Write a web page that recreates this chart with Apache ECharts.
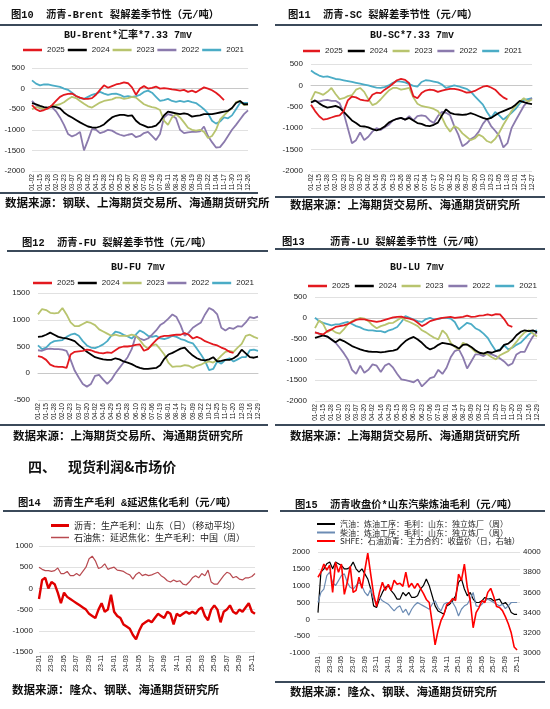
<!DOCTYPE html>
<html><head><meta charset="utf-8">
<script src="https://cdn.jsdelivr.net/npm/echarts@6/dist/echarts.min.js"></script>
<style>html,body{margin:0;padding:0;background:#fff}#c{width:550px;height:709px}</style>
</head><body><div id="c"></div>
<script>
// ---------- tick labels / categories ----------
const LABELS_BRENT = ['01-02','01-15','01-28','02-10','02-23','03-07','03-20','04-02','04-15','04-28','05-12','05-25','06-07','06-20','07-03','07-16','07-29','08-11','08-24','09-06','09-19','10-09','10-22','11-04','11-17','11-30','12-13','12-26'];
const LABELS_SC = ['01-02','01-15','01-28','02-10','02-23','03-07','03-20','04-02','04-16','04-29','05-13','05-26','06-08','06-21','07-04','07-17','07-30','08-12','08-25','09-07','09-20','10-10','10-23','11-05','11-18','12-01','12-14','12-27'];
const LABELS_FU_LU = ['01-02','01-15','01-28','02-10','02-23','03-07','03-20','04-02','04-16','04-29','05-15','05-28','06-10','06-23','07-06','07-19','08-01','08-14','08-27','09-09','09-22','10-12','10-25','11-07','11-20','12-03','12-16','12-29'];
const MONTHS = ['23-01','23-02','23-03','23-04','23-05','23-06','23-07','23-08','23-09','23-10','23-11','23-12','24-01','24-02','24-03','24-04','24-05','24-06','24-07','24-08','24-09','24-10','24-11','24-12','25-01','25-02','25-03','25-04','25-05','25-06','25-07','25-08','25-09','25-10','25-11'];
const YEARS = ['2025','2024','2023','2022','2021'];

// ---------- BU-Brent ----------
const BRENT_2025 = [-400,-500,-550,-520,-480,-400,-300,-200,-150,-130,-120,-180,-220,-250,-250,-230,-150,-30,80,20,60,100,120,150,130,30,-150,0,60,0,20,50,0,10,0,-20,-30,-50,-30,-80,-50,-90,-30,30,0,-40,-100,-180,-280];
const BRENT_2024 = [-350,-380,-420,-450,-460,-430,-450,-480,-580,-650,-700,-760,-820,-870,-920,-940,-950,-920,-870,-780,-700,-660,-640,-640,-660,-650,-780,-860,-900,-940,-930,-900,-800,-650,-560,-580,-600,-620,-600,-620,-680,-660,-650,-620,-620,-620,-600,-580,-560,-540,-470,-350,-300,-380,-380];
const BRENT_2023 = [-500,-450,-470,-500,-480,-420,-400,-380,-330,-260,-200,-230,-300,-370,-430,-460,-400,-340,-300,-280,-260,-220,-220,-250,-230,-200,-220,-300,-380,-420,-450,-470,-520,-780,-880,-700,-620,-700,-820,-950,-1000,-1020,-1000,-1050,-1200,-1150,-1000,-750,-650,-550,-480,-330,-300,-400,-380];
const BRENT_2022 = [-300,-400,-480,-500,-470,-450,-550,-700,-880,-1100,-1160,-1120,-1050,-1500,-1250,-980,-1000,-1080,-1050,-1000,-1020,-1080,-1120,-1150,-1120,-1100,-1180,-1150,-1080,-1050,-1150,-1250,-1100,-700,-620,-650,-720,-1000,-1080,-1060,-1050,-1050,-1040,-920,-1150,-1300,-1430,-1420,-1300,-1150,-1000,-880,-750,-620,-530];
const BRENT_2021 = [200,120,80,100,100,80,60,40,0,-30,-100,-180,-230,-250,-200,-150,-120,-80,-120,-150,-130,-120,-150,-200,-180,-200,-180,-150,-80,-50,-100,-200,-300,-280,-250,-300,-320,-300,-320,-300,-330,-350,-420,-500,-600,-780,-850,-800,-700,-720,-650,-500,-350,-350,-350];

// ---------- BU-SC ----------
const SC_2025 = [-450,-600,-720,-800,-780,-750,-720,-700,-600,-350,-260,-280,-330,-350,-360,-220,-170,-180,-100,-40,40,120,150,130,50,-250,-300,-180,-120,-100,-110,-150,-120,-100,-80,-80,-100,-130,-170,-160,-130,-80,-30,-10,-50,-100,-200,-280,-330];
const SC_2024 = [-400,-350,-420,-480,-520,-500,-480,-520,-620,-720,-820,-880,-950,-960,-980,-1020,-1050,-1020,-960,-870,-820,-780,-760,-800,-760,-820,-880,-900,-940,-950,-920,-870,-700,-560,-640,-670,-680,-690,-680,-650,-680,-720,-760,-790,-760,-700,-640,-600,-560,-520,-450,-360,-390,-420,-440];
const SC_2023 = [-350,-150,-180,-220,-150,-60,-200,-320,-300,-250,-230,-100,-60,-150,-320,-460,-420,-330,-220,-120,-60,-60,-100,-80,-60,-280,-430,-480,-500,-520,-550,-600,-750,-950,-1080,-950,-1000,-1120,-1200,-1280,-1240,-1150,-1200,-1300,-1340,-1250,-1100,-920,-760,-600,-480,-380,-300,-380,-330];
const SC_2022 = [-400,-360,-380,-350,-340,-360,-360,-420,-650,-1000,-1350,-1280,-1100,-1280,-1200,-1080,-1000,-1040,-980,-920,-820,-780,-760,-800,-720,-820,-720,-700,-720,-820,-880,-720,-620,-640,-700,-950,-1150,-1420,-1360,-1260,-1200,-1080,-900,-780,-950,-1060,-1180,-1450,-1350,-1000,-820,-650,-480,-380,-300];
const SC_2021 = [350,280,230,200,210,180,150,140,120,100,80,60,40,20,0,-30,-50,-60,-40,0,60,100,90,70,30,-10,-30,80,120,110,90,70,20,-60,-30,0,-20,-50,-80,-140,-250,-350,-450,-620,-760,-620,-700,-800,-720,-640,-550,-420,-340,-320,-300];

// ---------- BU-FU ----------
const FU_2025 = [320,300,250,160,130,120,120,100,350,400,410,420,440,430,400,380,370,390,380,430,480,500,500,510,530,540,420,450,540,620,680,700,700,710,720,720,750,720,650,680,650,600,570,540,520,480,450,400,380];
const FU_2024 = [680,690,720,760,720,680,660,650,630,600,530,470,400,350,300,280,260,250,250,280,260,220,200,170,130,100,80,80,90,100,150,270,350,380,420,460,480,400,330,280,250,240,260,300,220,230,250,250,280,330,440,370,300,290,310];
const FU_2023 = [1100,1200,1180,1130,1120,1130,1220,1100,950,880,880,920,960,940,900,820,780,740,700,720,700,700,700,720,700,620,520,460,520,540,450,350,200,120,130,130,150,140,100,140,160,200,220,200,250,330,400,420,400,480,550,700,720,680,650];
const FU_2022 = [430,420,450,460,450,450,440,420,250,50,-80,-200,-250,-200,-50,-30,-120,-200,-120,0,100,200,300,450,700,650,620,650,720,800,900,950,1020,1100,1050,900,700,760,850,900,950,1100,1220,1180,1100,850,800,850,830,880,870,950,1050,1030,1060];
const FU_2021 = [520,450,480,560,600,610,620,680,720,740,700,600,520,480,470,500,540,600,700,780,760,720,690,650,720,800,760,700,680,700,650,640,660,700,680,640,620,580,560,460,350,230,60,80,220,180,250,280,220,260,300,300,430,440,420];

// ---------- BU-LU ----------
const LU_2025 = [-350,-380,-400,-320,-280,-220,-200,-180,-150,-100,-50,-30,-40,-60,-80,-100,-80,-50,-20,10,20,30,0,-20,-50,-120,-200,-150,-80,-50,-20,0,10,20,0,10,20,50,20,30,50,60,80,60,90,80,-30,-180,-220];
const LU_2024 = [-480,-450,-420,-450,-520,-590,-520,-560,-620,-680,-720,-760,-790,-810,-820,-820,-830,-820,-800,-790,-760,-650,-560,-500,-460,-520,-600,-700,-760,-720,-650,-600,-620,-640,-680,-740,-650,-640,-700,-780,-840,-860,-820,-840,-800,-780,-650,-620,-540,-420,-340,-300,-320,-300,-350];
const LU_2023 = [-250,-60,-150,-350,-280,-350,-380,-280,-150,-80,-40,0,-20,-80,-180,-250,-200,-170,-130,-120,-60,0,-60,-100,-150,-200,-300,-350,-420,-480,-520,-300,-400,-600,-700,-760,-600,-650,-720,-820,-840,-860,-880,-950,-1000,-900,-850,-800,-700,-580,-450,-350,-300,-380,-450];
const LU_2022 = [-350,-380,-420,-450,-520,-600,-720,-850,-1000,-1250,-1350,-1150,-1320,-1250,-1120,-1150,-1300,-1150,-1100,-1200,-1350,-1480,-1500,-1520,-1550,-1480,-1650,-1550,-1450,-1420,-1250,-1350,-1200,-950,-800,-760,-950,-1220,-1050,-880,-880,-920,-850,-880,-920,-980,-1050,-1150,-1100,-880,-820,-820,-620,-450,-350];
const LU_2021 = [0,-80,-120,-150,-180,-160,-150,-120,-100,-150,-200,-230,-280,-300,-300,-320,-320,-350,-300,-270,-220,-100,40,0,-40,-80,-100,-30,0,-40,-30,0,0,-20,-100,-280,-200,-120,-150,-250,-300,-380,-480,-650,-800,-760,-660,-760,-720,-650,-600,-500,-400,-330,-300];

// ---------- Fig 14 (half-monthly) ----------
const NAME_BU_MARGIN = '沥青：生产毛利：山东（日）（移动平均）';
const NAME_COKE_MARGIN = '石油焦：延迟焦化：生产毛利：中国（周）';
const BU_MARGIN = [-250,200,250,0,150,100,-100,-350,-100,-200,-250,-300,-350,-400,-450,-500,-600,-650,-700,-500,-350,-550,-500,-150,-550,-650,-700,-850,-900,-950,-1100,-1200,-1000,-850,-800,-750,-800,-700,-600,-650,-700,-550,-600,-850,-600,-650,-600,-550,-600,-550,-600,-500,-450,-650,-750,-500,-400,-500,-800,-550,-500,-400,-550,-600,-500,-550,-450,-350,-550,-600];
const COKE_MARGIN = [500,450,420,420,400,420,480,350,350,400,300,300,350,300,400,500,700,760,650,470,500,580,450,480,500,430,420,400,350,320,220,330,380,300,330,300,320,350,380,300,250,180,150,200,160,180,100,80,150,250,300,250,350,300,430,150,100,100,200,300,380,350,250,280,220,200,250,250,280,350];

// ---------- Fig 15 (half-monthly) ----------
const NAME_GASOLINE = '汽油：炼油工序：毛利：山东：独立炼厂（周）';
const NAME_DIESEL = '柴油：炼油工序：毛利：山东：独立炼厂（周）';
const NAME_BU_CLOSE = 'SHFE：石油沥青：主力合约：收盘价（日，右轴）';
const GASOLINE_MARGIN = [200,1400,1500,1650,1700,1500,1700,1650,1600,1500,1500,1550,1700,1500,1400,1500,1350,1200,900,400,350,600,800,950,1000,850,750,600,600,800,700,800,650,650,700,900,1000,1200,1000,700,400,250,200,150,400,450,550,700,1100,1200,900,700,800,600,500,500,550,650,600,620,550,580,600,450,500,400,200,150,150];
const DIESEL_MARGIN = [500,800,900,1300,1400,1100,1000,1150,1300,1350,1100,950,900,1000,1100,1000,800,700,900,600,500,650,550,500,450,350,250,350,400,200,300,120,300,420,500,450,400,350,300,450,550,350,250,450,500,500,500,350,100,300,400,450,600,800,400,380,450,550,600,550,500,450,400,450,320,400,500,500,500];
const BU_CLOSE = [3750,3800,3880,3820,3870,3600,3900,3800,3880,3580,3700,3860,3600,3620,3750,3640,3820,3990,3780,3580,3460,3600,3700,3620,3680,3620,3720,3680,3690,3660,3800,3650,3690,3640,3690,3640,3590,3530,3500,3300,3080,3220,3320,3380,3480,3500,3540,3520,3780,3720,3880,3650,3520,3250,3400,3450,3520,3500,3600,3640,3560,3460,3450,3420,3360,3290,3200,3060,3030];

// ---------- build ----------
function seasonCats(labels){
  const out=[];
  labels.forEach((l,i)=>{
    out.push(l);
    if(i<labels.length-1){
      const d=new Date(Date.UTC(2024, +l.slice(0,2)-1, +l.slice(3)+6));
      out.push(String(d.getUTCMonth()+1).padStart(2,'0')+'-'+String(d.getUTCDate()).padStart(2,'0'));
    }
  });
  return out;
}
const HALF_MONTH_CATS = MONTHS.flatMap(m=>[m+'-01', m+'-16']);

const COLORS = {'2025':'#e3191f','2024':'#000000','2023':'#b8c46e','2022':'#8b7aad','2021':'#4bacc6'};
const NUM_FONT = "'Liberation Sans', Arial, sans-serif";
const CJK = "'Noto Sans CJK SC'";
const GRID_COLOR = '#d9d9d9';

const seasonal = [
  {cats:seasonCats(LABELS_BRENT), grid:{left:32,top:68,width:216,height:103}, yMin:-2000, yMax:500, margin:7,
   data:{'2025':BRENT_2025,'2024':BRENT_2024,'2023':BRENT_2023,'2022':BRENT_2022,'2021':BRENT_2021},
   legend:{left:23,top:46,itemWidth:19,itemGap:3}},
  {cats:seasonCats(LABELS_SC), grid:{left:311,top:64,width:221,height:107}, yMin:-2000, yMax:500, margin:8,
   data:{'2025':SC_2025,'2024':SC_2024,'2023':SC_2023,'2022':SC_2022,'2021':SC_2021},
   legend:{left:303,top:47,itemWidth:17,itemGap:5}},
  {cats:seasonCats(LABELS_FU_LU), grid:{left:38,top:293,width:220,height:107}, yMin:-500, yMax:1500, margin:8,
   data:{'2025':FU_2025,'2024':FU_2024,'2023':FU_2023,'2022':FU_2022,'2021':FU_2021},
   legend:{left:33,top:279,itemWidth:19,itemGap:3}},
  {cats:seasonCats(LABELS_FU_LU), grid:{left:315,top:297,width:222,height:104}, yMin:-2000, yMax:500, margin:8,
   data:{'2025':LU_2025,'2024':LU_2024,'2023':LU_2023,'2022':LU_2022,'2021':LU_2021},
   legend:{left:308,top:282,itemWidth:19,itemGap:5}}
];

const grids=[], xAxes=[], yAxes=[], series=[], legends=[];
function yAxisBase(gi, min, max, interval, margin){
  return {type:'value', gridIndex:gi, min, max, interval,
    axisLine:{show:false}, axisTick:{show:false},
    splitLine:{lineStyle:{color:GRID_COLOR,width:0.8}},
    axisLabel:{fontSize:8, color:'#222', margin, fontFamily:NUM_FONT, formatter:v=>String(v)}};
}
function xAxisBase(gi, cats, interval, fmt){
  const ax = {type:'category', gridIndex:gi, data:cats, boundaryGap:false,
    axisLine:{lineStyle:{color:'#c8c8c8'}}, axisTick:{show:false},
    axisLabel:{interval, rotate:90, fontSize:6.6, color:'#222', margin:3, fontFamily:NUM_FONT}};
  if(fmt) ax.axisLabel.formatter = fmt;
  return ax;
}

seasonal.forEach((p,i)=>{
  grids.push(p.grid);
  xAxes.push(xAxisBase(i, p.cats, 1));
  yAxes.push(yAxisBase(i, p.yMin, p.yMax, 500, p.margin));
  ['2021','2022','2023','2024','2025'].forEach(y=>{
    series.push({name:y, type:'line', xAxisIndex:i, yAxisIndex:i, data:p.data[y],
      showSymbol:false, symbol:'none', color:COLORS[y],
      lineStyle:{width:1.8, color:COLORS[y]}});
  });
  legends.push({data:YEARS, left:p.legend.left, top:p.legend.top, itemWidth:p.legend.itemWidth, itemHeight:2.5,
    itemGap:p.legend.itemGap, icon:'rect', padding:0,
    textStyle:{fontSize:8, color:'#222', fontFamily:NUM_FONT}});
});

// Fig 14
grids.push({left:39,top:546,width:216,height:106});
xAxes.push(xAxisBase(4, HALF_MONTH_CATS, 3, v=>v.slice(0,5)));
yAxes.push(yAxisBase(4, -1500, 1000, 500, 6));
series.push({name:NAME_COKE_MARGIN, type:'line', xAxisIndex:4, yAxisIndex:4, data:COKE_MARGIN, showSymbol:false, symbol:'none', color:'#b84a50', lineStyle:{width:1.2,color:'#b84a50'}});
series.push({name:NAME_BU_MARGIN, type:'line', xAxisIndex:4, yAxisIndex:4, data:BU_MARGIN, showSymbol:false, symbol:'none', color:'#e00000', lineStyle:{width:2.4,color:'#e00000'}});
legends.push({data:[NAME_BU_MARGIN], left:51, top:521, itemWidth:18, itemHeight:3, icon:'rect', padding:0, textStyle:{fontSize:9,color:'#222',fontFamily:CJK}});
legends.push({data:[NAME_COKE_MARGIN], left:51, top:533, itemWidth:18, itemHeight:1.5, icon:'rect', padding:0, textStyle:{fontSize:9,color:'#222',fontFamily:CJK}});

// Fig 15
grids.push({left:318,top:552,width:202,height:101});
xAxes.push(xAxisBase(5, HALF_MONTH_CATS, 3, v=>v.slice(0,5)));
yAxes.push(yAxisBase(5, -1000, 2000, 500, 8));
const yR = yAxisBase(5, 3000, 4000, 200, 3); yR.position='right'; yR.splitLine={show:false};
yAxes.push(yR);
series.push({name:NAME_GASOLINE, type:'line', xAxisIndex:5, yAxisIndex:5, data:GASOLINE_MARGIN, showSymbol:false, symbol:'none', color:'#000', lineStyle:{width:1.2,color:'#000'}});
series.push({name:NAME_DIESEL, type:'line', xAxisIndex:5, yAxisIndex:5, data:DIESEL_MARGIN, showSymbol:false, symbol:'none', color:'#6c8cb4', lineStyle:{width:1.2,color:'#6c8cb4'}});
series.push({name:NAME_BU_CLOSE, type:'line', xAxisIndex:5, yAxisIndex:6, data:BU_CLOSE, showSymbol:false, symbol:'none', color:'#ff0000', lineStyle:{width:1.6,color:'#ff0000'}});
[[NAME_GASOLINE,520],[NAME_DIESEL,528.5],[NAME_BU_CLOSE,537]].forEach(([n,t])=>{
  legends.push({data:[n], left:317, top:t, itemWidth:18, itemHeight:2, icon:'rect', padding:0, textStyle:{fontSize:8,color:'#222',fontFamily:CJK,lineHeight:8}});
});

// ---------- text / rules ----------
const TITLE_FONT = "bold 10.3px 'Liberation Mono', 'Noto Sans CJK SC'";
const SUB_FONT = "bold 10px 'Liberation Mono', 'Noto Sans CJK SC'";
const SRC_FONT = "bold 11.5px 'Noto Sans CJK SC'";
const RULE = '#3b4a5a';
function txt(x,y,t,font,align){return {type:'text', x, y, silent:true, style:{text:t, font, fill:'#111', align:align||'left', verticalAlign:'middle', textAlign:align||'left', textVerticalAlign:'middle'}};}
function rule(y,x1,x2){return {type:'line', silent:true, shape:{x1,y1:y,x2,y2:y}, style:{stroke:RULE, lineWidth:2}};}
const graphics = [
  txt(11,15,'图10  沥青-Brent 裂解差季节性（元/吨）',TITLE_FONT),
  txt(288,15,'图11  沥青-SC 裂解差季节性（元/吨）',TITLE_FONT),
  txt(22,243,'图12  沥青-FU 裂解差季节性（元/吨）',TITLE_FONT),
  txt(282,242,'图13',TITLE_FONT),
  txt(330,242,'沥青-LU 裂解差季节性（元/吨）',TITLE_FONT),
  txt(18,503,'图14  沥青生产毛利 &延迟焦化毛利（元/吨）',TITLE_FONT),
  txt(295,505,'图15  沥青收盘价*山东汽柴炼油毛利（元/吨）',TITLE_FONT),
  txt(128,35,'BU-Brent*汇率*7.33 7mv',SUB_FONT,'center'),
  txt(412,35,'BU-SC*7.33 7mv',SUB_FONT,'center'),
  txt(138,267,'BU-FU 7mv',SUB_FONT,'center'),
  txt(417,267,'BU-LU 7mv',SUB_FONT,'center'),
  rule(25,0,258), rule(25,275,542), rule(251,7,268), rule(249,275,545), rule(511,3,268), rule(511,280,545),
  rule(193,0,258), rule(197,275,545), rule(425,0,268), rule(425,275,545), rule(682,275,545),
  txt(5,203,'数据来源：钢联、上海期货交易所、海通期货研究所',SRC_FONT),
  txt(290,205,'数据来源：上海期货交易所、海通期货研究所',SRC_FONT),
  txt(13,436,'数据来源：上海期货交易所、海通期货研究所',SRC_FONT),
  txt(290,436,'数据来源：上海期货交易所、海通期货研究所',SRC_FONT),
  txt(12,690,'数据来源：隆众、钢联、海通期货研究所',SRC_FONT),
  txt(290,692,'数据来源：隆众、钢联、海通期货研究所',SRC_FONT),
  txt(28,467,'四、',"bold 14px 'Noto Sans CJK SC'"),
  txt(68,467,'现货利润&市场价',"bold 14px 'Noto Sans CJK SC'")
];

const chart = echarts.init(document.getElementById('c'), null, {renderer:'canvas'});
chart.setOption({
  animation:false,
  backgroundColor:'#ffffff',
  grid:grids, xAxis:xAxes, yAxis:yAxes, series, legend:legends,
  graphic:graphics
});
</script></body></html>
